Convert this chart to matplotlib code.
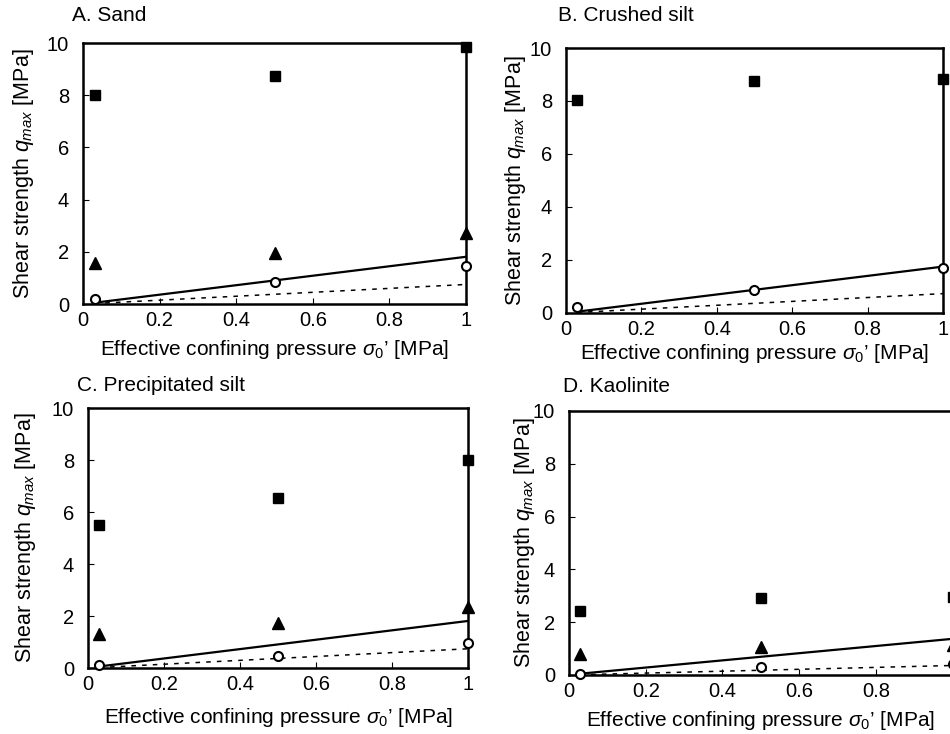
import matplotlib
matplotlib.use("Agg")
import matplotlib.pyplot as plt

plt.rcParams['font.family'] = ['Liberation Sans', 'DejaVu Sans']
plt.rcParams['mathtext.fontset'] = 'custom'
plt.rcParams['mathtext.rm'] = 'Liberation Sans'
plt.rcParams['mathtext.it'] = 'Liberation Sans:italic'
plt.rcParams['mathtext.sf'] = 'Liberation Sans'

# data
titles = ["A. Sand", "B. Crushed silt", "C. Precipitated silt", "D. Kaolinite"]
x_pts = [0.03, 0.5, 1.0]
sq_vals = [[8.0, 8.75, 9.85], [8.02, 8.76, 8.83], [5.52, 6.53, 8.02], [2.44, 2.92, 2.97]]
tri_vals = [[1.57, 1.95, 2.72], None, [1.31, 1.72, 2.36], [0.8, 1.05, 1.12]]
circ_vals = [[0.19, 0.85, 1.47], [0.24, 0.87, 1.71], [0.12, 0.47, 0.97], [0.04, 0.29, 0.42]]
line_x = [0.03, 1.0]
solid_y = [[0.05, 1.81], [0.05, 1.75], [0.06, 1.81], [0.05, 1.37]]
dashed_y = [[0.02, 0.75], [0.02, 0.73], [0.02, 0.74], [0.01, 0.36]]
xticks = [0, 0.2, 0.4, 0.6, 0.8, 1.0]
xtick_labels = ["0", "0.2", "0.4", "0.6", "0.8", "1"]
yticks = [0, 2, 4, 6, 8, 10]

# axes rectangles in figure fraction, title offsets in pixels, label pads
positions = [[0.0874, 0.5858, 0.4032, 0.3556],
             [0.5958, 0.5736, 0.3968, 0.3610],
             [0.0926, 0.0899, 0.4000, 0.3542],
             [0.5989, 0.0804, 0.4040, 0.3597]]
title_off = [(-11, 28), (-8, 33), (-11, 23), (-6, 24)]
ypads = [8, 1, 10, -3]
xpads = [5.5, 2.5, 8.5, 5.5]

fig = plt.figure(figsize=(9.5, 7.34), dpi=100)

for i in range(4):
    ax = fig.add_axes(positions[i])
    ax.plot(line_x, solid_y[i], color='black', lw=1.6, zorder=2)
    ax.plot(line_x, dashed_y[i], color='black', lw=1.1, linestyle=(0, (3, 4)), zorder=2)
    ax.plot(x_pts, sq_vals[i], 's', color='black', ms=7.8, ls='none', clip_on=False, zorder=3)
    if tri_vals[i] is not None:
        ax.plot(x_pts, tri_vals[i], '^', color='black', ms=9, ls='none', clip_on=False, zorder=3)
    ax.plot(x_pts, circ_vals[i], 'o', mfc='white', mec='black', mew=1.5, ms=6.5,
            ls='none', clip_on=False, zorder=4)
    ax.set_xlim(0, 1)
    ax.set_ylim(0, 10)
    ax.set_xticks(xticks)
    labels = list(xtick_labels)
    if i == 3:
        labels[-1] = ""  # falls outside the cropped picture
    ax.set_xticklabels(labels)
    ax.set_yticks(yticks)
    ax.tick_params(direction='in', length=4, width=0.8, labelsize=14.5)
    ax.tick_params(axis='x', pad=5)
    ax.tick_params(axis='y', pad=10)
    for s in ax.spines.values():
        s.set_linewidth(1.8)
    ax.set_xlabel("Effective confining pressure $\\sigma_0$\u2019 [MPa]", fontsize=15, labelpad=xpads[i])
    ax.set_ylabel("Shear strength $q_{max}$ [MPa]", fontsize=15.5, labelpad=ypads[i])
    ax.annotate(titles[i], xy=(0, 1), xycoords='axes fraction', xytext=title_off[i],
                textcoords='offset pixels', ha='left', va='center', fontsize=15)

fig.savefig("out.png", dpi=100)
